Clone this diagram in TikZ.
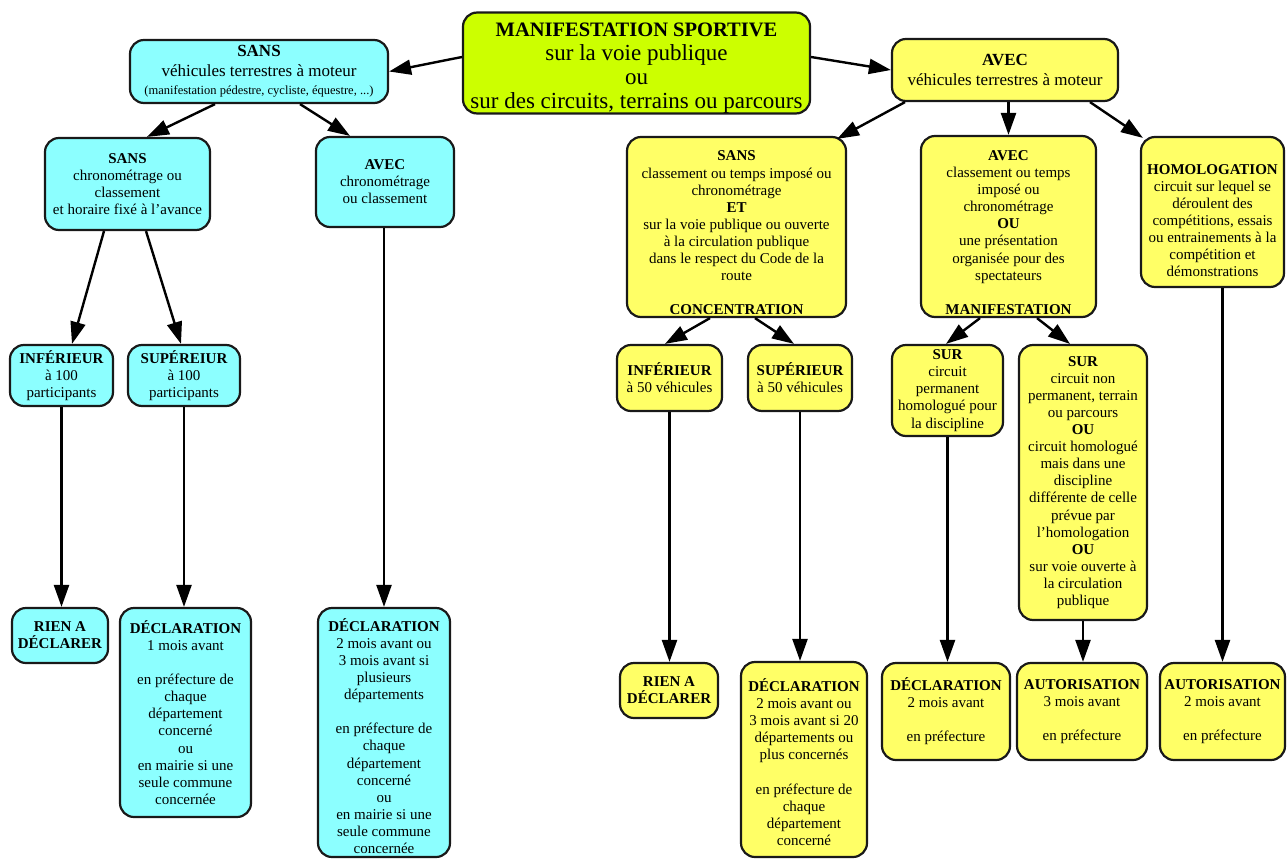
\documentclass[tikz,border=0pt]{standalone}
\usepackage{fontspec}
\setmainfont{Liberation Serif}
\usetikzlibrary{arrows.meta}
\definecolor{cyanbox}{RGB}{140,255,255}
\definecolor{yelbox}{RGB}{255,255,102}
\definecolor{limebox}{RGB}{204,255,0}
\newcommand\fbody{\fontsize{15}{17.1}\selectfont}
\newcommand\ftop{\fontsize{17}{20}\selectfont}
\newcommand\fsmall{\fontsize{12.5}{14}\selectfont}
\newcommand\ftitle{\fontsize{23}{24}\selectfont}
\newcommand\ftitleb{\fontsize{20.5}{24}\selectfont}
\newcommand\pushdown[1]{\rule{0pt}{#1}}
\begin{document}
\begin{tikzpicture}[x=1pt,y=-1pt,
  box/.style={draw=black!90,line width=2.2pt,rounded corners=14pt,align=center,inner sep=0pt,font=\fbody},
  cy/.style={box,fill=cyanbox},
  ye/.style={box,fill=yelbox},
  sz/.style 2 args={minimum width=#1pt,minimum height=#2pt},
  arr/.style={line width=2.4pt,draw=black,-{Triangle[length=22pt,width=15pt]}}]
\useasboundingbox (0,0) rectangle (1287,859);

% top
\node[box,fill=limebox,sz={347}{100},font=\ftitle] (title) at (636.5,63)
  {\pushdown{24pt}{\ftitleb\bfseries MANIFESTATION SPORTIVE}\\sur la voie publique\\ou\\sur des circuits, terrains ou parcours};
\node[cy,sz={258}{63},font=\ftop] (sansV) at (259,71.5)
  {{\bfseries SANS}\\véhicules terrestres à moteur\\[-2pt]{\fsmall (manifestation pédestre, cycliste, équestre, ...)}};
\node[ye,sz={226}{62},font=\ftop] (avecV) at (1005,70)
  {{\bfseries AVEC}\\véhicules terrestres à moteur};

% left branch
\node[cy,sz={165}{92}] (sansC) at (127.5,184)
  {{\bfseries SANS}\\chronométrage ou\\classement\\et horaire fixé à l’avance};
\node[cy,sz={138}{90}] (avecC) at (385,182)
  {{\bfseries AVEC}\\chronométrage\\ou classement};
\node[cy,sz={103}{61}] (inf100) at (61.5,375.5)
  {{\bfseries INFÉRIEUR}\\à 100\\participants};
\node[cy,sz={112}{61}] (sup100) at (184,375.5)
  {{\bfseries SUPÉREIUR}\\à 100\\participants};
\node[cy,sz={96}{55}] (rien1) at (60,635.5)
  {\bfseries RIEN A\\\bfseries DÉCLARER};
\node[cy,sz={131}{209}] (decl1) at (185.5,712.5)
  {{\bfseries DÉCLARATION}\\1 mois avant\\[17.1pt]en préfecture de\\chaque\\département\\concerné\\ou\\en mairie si une\\seule commune\\concernée};
\node[cy,sz={132}{249}] (decl1b) at (384,732.5)
  {\pushdown{20pt}{\bfseries DÉCLARATION}\\2 mois avant ou\\3 mois avant si\\plusieurs\\départements\\[17.1pt]en préfecture de\\chaque\\département\\concerné\\ou\\en mairie si une\\seule commune\\concernée};

% right branch
\node[ye,sz={219}{180}] (sansR) at (736.5,227)
  {\pushdown{22pt}{\bfseries SANS}\\classement ou temps imposé ou\\chronométrage\\{\bfseries ET}\\sur la voie publique ou ouverte\\à la circulation publique\\dans le respect du Code de la\\route\\[17.1pt]{\bfseries CONCENTRATION}};
\node[ye,sz={175}{181}] (avecR) at (1008.5,226.5)
  {\pushdown{22pt}{\bfseries AVEC}\\classement ou temps\\imposé ou\\chronométrage\\{\bfseries OU}\\une présentation\\organisée pour des\\spectateurs\\[17.1pt]{\bfseries MANIFESTATION}};
\node[ye,sz={143}{150}] (homol) at (1212.5,212)
  {\pushdown{27pt}{\bfseries HOMOLOGATION}\\circuit sur lequel se\\déroulent des\\compétitions, essais\\ou entrainements à la\\compétition et\\démonstrations};
\node[ye,sz={105}{66}] (inf50) at (669.5,378)
  {{\bfseries INFÉRIEUR}\\à 50 véhicules};
\node[ye,sz={104}{66}] (sup50) at (800,378)
  {{\bfseries SUPÉRIEUR}\\à 50 véhicules};
\node[ye,sz={111}{91}] (surP) at (947.5,390.5)
  {{\bfseries SUR}\\circuit\\permanent\\homologué pour\\la discipline};
\node[ye,sz={128}{275}] (surN) at (1083,482.5)
  {{\bfseries SUR}\\circuit non\\permanent, terrain\\ou parcours\\{\bfseries OU}\\circuit homologué\\mais dans une\\discipline\\différente de celle\\prévue par\\l’homologation\\{\bfseries OU}\\sur voie ouverte à\\la circulation\\publique};
\node[ye,sz={98}{55}] (rien2) at (669,690.5)
  {\bfseries RIEN A\\\bfseries DÉCLARER};
\node[ye,sz={126}{195}] (decl2) at (804,759.5)
  {\pushdown{18pt}{\bfseries DÉCLARATION}\\2 mois avant ou\\3 mois avant si 20\\départements ou\\plus concernés\\[17.1pt]en préfecture de\\chaque\\département\\concerné};
\node[ye,sz={128}{97}] (decl3) at (946,711.5)
  {{\bfseries DÉCLARATION}\\2 mois avant\\[17.1pt]en préfecture};
\node[ye,sz={130}{97}] (aut3) at (1082,711.5)
  {{\bfseries AUTORISATION}\\3 mois avant\\[17.1pt]en préfecture};
\node[ye,sz={125}{97}] (aut2) at (1222.5,711.5)
  {{\bfseries AUTORISATION}\\2 mois avant\\[17.1pt]en préfecture};

% connectors
\draw[arr] ([yshift=6pt]title.west) -- (sansV.east);
\draw[arr] ([yshift=6pt]title.east) -- (avecV.west);
\draw[arr] ([xshift=-44pt]sansV.south) -- ([xshift=19.5pt]sansC.north);
\draw[arr] ([xshift=41pt]sansV.south) -- ([xshift=-35pt]avecC.north);
\draw[arr] ([xshift=-100pt]avecV.south) -- ([xshift=-10pt,yshift=-3pt]sansR.north east);
\draw[arr] (avecR.north |- avecV.south) -- (avecR.north);
\draw[arr] ([xshift=85pt]avecV.south) -- ([xshift=3pt,yshift=-2pt]homol.north west);
\draw[arr] ([xshift=-23.5pt]sansC.south) -- ([xshift=10.5pt]inf100.north);
\draw[arr] ([xshift=18.5pt]sansC.south) -- ([xshift=-3pt]sup100.north);
\draw[arr] (decl1b.north |- avecC.south) -- (decl1b.north);
\draw[arr] (inf100.south) -- (inf100.south |- rien1.north);
\draw[arr] (sup100.south) -- (sup100.south |- decl1.north);
\draw[arr] ([xshift=-26.5pt]sansR.south) -- ([xshift=-4.5pt]inf50.north);
\draw[arr] ([xshift=18.5pt]sansR.south) -- ([xshift=-6pt]sup50.north);
\draw[arr] ([xshift=-28.5pt]avecR.south) -- ([xshift=-1.5pt]surP.north);
\draw[arr] ([xshift=28.5pt]avecR.south) -- ([xshift=-13pt]surN.north);
\draw[arr] (inf50.south) -- (inf50.south |- rien2.north);
\draw[arr] (sup50.south) -- (sup50.south |- decl2.north);
\draw[arr] (surP.south) -- (surP.south |- decl3.north);
\draw[arr] (surN.south) -- (surN.south |- aut3.north);
\draw[arr] (aut2.north |- homol.south) -- (aut2.north);
\end{tikzpicture}
\end{document}
